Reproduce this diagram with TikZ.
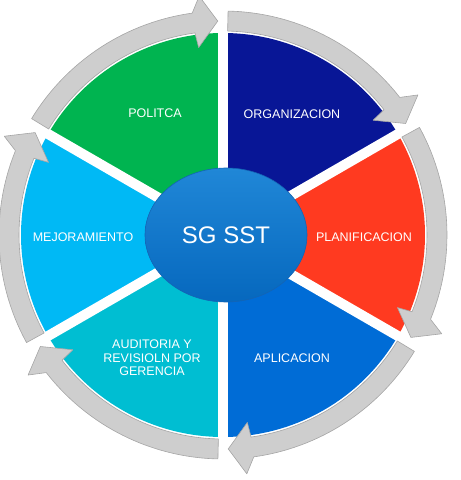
\documentclass[tikz,border=0pt]{standalone}
\usepackage{fontspec}
\setmainfont{Liberation Sans}
\usetikzlibrary{calc,shapes.geometric}
\definecolor{cgreen}{RGB}{0,180,80}
\definecolor{cnavy}{RGB}{8,22,150}
\definecolor{cred}{RGB}{255,58,32}
\definecolor{cblue}{RGB}{0,108,214}
\definecolor{ccyan}{RGB}{0,190,210}
\definecolor{clight}{RGB}{0,185,245}
\definecolor{ringfill}{RGB}{206,206,206}
\definecolor{ringedge}{RGB}{165,165,165}
\definecolor{hubtop}{RGB}{32,135,215}
\definecolor{hubbot}{RGB}{6,104,190}
\definecolor{hubedge}{RGB}{20,100,180}
\tikzset{
  sector/.style={draw=none},
  gapline/.style={white, line width=10pt},
  ringseg/.style={fill=ringfill, draw=ringedge, line width=0.6pt, line join=round},
  lab/.style={text=white, font=\fontsize{12.5}{13.5}\selectfont, align=center, inner sep=0pt},
  hub/.style={ellipse, minimum width=162pt, minimum height=134pt, inner sep=0pt,
    draw=hubedge, line width=0.6pt,
    top color=hubtop, bottom color=hubbot,
    text=white, font=\fontsize{24}{26}\selectfont}
}
\begin{document}
\begin{tikzpicture}[x=1pt,y=1pt]
\useasboundingbox (0,0) rectangle (461,480);
\coordinate (C) at (223,245);
% sectors
\foreach \a/\col in {90/cgreen,30/cnavy,-30/cred,-90/cblue,-150/ccyan,150/clight}{
  \fill[sector,\col] (C) -- ($(C)+(\a:202)$) arc[start angle=\a, end angle=\a+60, radius=202] -- cycle;
}
% gaps
\foreach \g in {30,90,150,210,270,330}{
  \draw[gapline] (C) -- ($(C)+(\g:232)$);
}
% ring arrows
\foreach \g in {150,90,30,-30,-90,-150}{
  \pgfmathsetmacro\s{\g-1.3}
  \pgfmathsetmacro\e{\g-58.6}
  \filldraw[ringseg] ($(C)+(\s:224)$) arc[start angle=\s, end angle=\e+6.5, radius=224]
    -- ($(C)+({\e+4.3}:240)$) -- ($(C)+(\e:214)$) -- ($(C)+({\e+6}:189)$)
    -- ($(C)+({\e+6.5}:204)$) arc[start angle=\e+6.5, end angle=\s, radius=204] -- cycle;
}
% hub
\node[hub] (hub) at (226,245) {SG SST};
% labels
\node[lab] (politca) at (155,367) {POLITCA};
\node[lab] (org) at (292,366) {ORGANIZACION};
\node[lab] (plan) at (364,243) {PLANIFICACION};
\node[lab] (apl) at (292,122) {APLICACION};
\node[lab] (aud) at (152,122) {AUDITORIA Y\\REVISIOLN POR\\GERENCIA};
\node[lab] (mej) at (83,243) {MEJORAMIENTO};
\end{tikzpicture}
\end{document}
